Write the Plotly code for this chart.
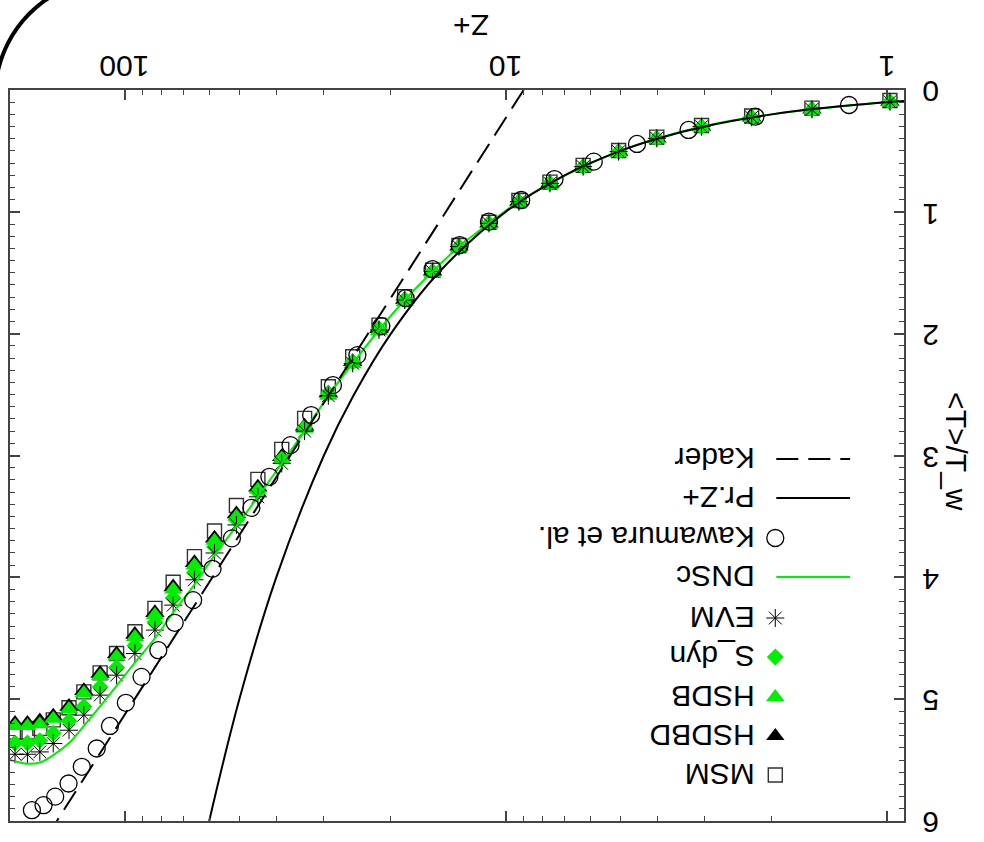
import numpy as np
import plotly.graph_objects as go

# ---------------- data ----------------
z_grid = [0.98, 1.57, 2.26, 3.06, 4.01, 5.05, 6.26, 7.65, 9.23, 11.06, 13.26, 15.55,
          18.4, 21.5, 25.2, 29.2, 33.7, 38.7, 44.7, 50.9, 58.1, 65.6, 74.6, 83.3,
          94.0, 105, 116, 128, 140, 154, 167, 180, 194]

t_evm = [0.096, 0.159, 0.224, 0.301, 0.397, 0.506, 0.629, 0.766, 0.917, 1.095, 1.286, 1.49,
         1.724, 1.97, 2.244, 2.51, 2.80, 3.065, 3.339, 3.57, 3.80, 4.02, 4.228, 4.433,
         4.625, 4.803, 4.967, 5.131, 5.255, 5.364, 5.433, 5.452, 5.452]

t_sdyn = [0.096, 0.159, 0.224, 0.301, 0.397, 0.506, 0.629, 0.766, 0.917, 1.095, 1.286, 1.49,
          1.72, 1.96, 2.23, 2.49, 2.77, 3.03, 3.30, 3.53, 3.75, 3.96, 4.17, 4.37,
          4.56, 4.74, 4.90, 5.06, 5.18, 5.28, 5.34, 5.36, 5.36]

t_hsdb = [0.10, 0.163, 0.23, 0.308, 0.405, 0.515, 0.64, 0.778, 0.93, 1.11, 1.30, 1.51,
          1.74, 1.98, 2.25, 2.51, 2.78, 3.03, 3.28, 3.50, 3.70, 3.90, 4.10, 4.31,
          4.49, 4.65, 4.81, 4.95, 5.08, 5.16, 5.205, 5.22, 5.22]

t_hsdbd = [0.095, 0.158, 0.223, 0.30, 0.396, 0.505, 0.628, 0.765, 0.915, 1.093, 1.283, 1.487,
           1.72, 1.96, 2.23, 2.49, 2.76, 3.01, 3.26, 3.48, 3.68, 3.88, 4.08, 4.29,
           4.47, 4.63, 4.79, 4.93, 5.06, 5.14, 5.18, 5.20, 5.20]

t_msm = [0.086, 0.149, 0.214, 0.291, 0.387, 0.496, 0.619, 0.756, 0.907, 1.085, 1.276, 1.48,
         1.697, 1.93, 2.19, 2.436, 2.695, 2.95, 3.196, 3.41, 3.62, 3.83, 4.04, 4.255,
         4.447, 4.625, 4.784, 4.94, 5.071, 5.17, 5.24, 5.27, 5.27]

z_dnsc = [0.98, 1.57, 2.26, 3.06, 4.01, 5.05, 6.26, 7.65, 9.23, 11.06, 13.26, 15.55,
          18.4, 21.5, 25.2, 29.2, 33.7, 38.7, 44.7, 50.9, 58.1, 65.6, 74.6, 83.3,
          94.0, 105, 116, 128, 140, 154, 167, 180, 194, 200]
t_dnsc = [0.096, 0.159, 0.224, 0.301, 0.397, 0.506, 0.629, 0.766, 0.917, 1.095, 1.286, 1.49,
          1.724, 1.97, 2.244, 2.51, 2.80, 3.065, 3.34, 3.58, 3.82, 4.06, 4.29, 4.50,
          4.70, 4.89, 5.06, 5.22, 5.36, 5.46, 5.52, 5.53, 5.51, 5.50]

z_kaw = [1.255, 2.21, 3.31, 4.52, 5.87, 7.44, 9.1, 11.06, 13.2, 15.55, 18.3, 21.2, 24.5, 28.4,
         32.4, 36.7, 41.7, 46.5, 52.3, 58.8, 66.1, 73.9, 81.6, 90.3, 99.3, 109.3, 118.4,
         129.6, 140.4, 152.2, 163.3, 175.2]
t_kaw = [0.123, 0.219, 0.328, 0.443, 0.588, 0.731, 0.903, 1.081, 1.273, 1.471, 1.709, 1.938,
         2.176, 2.422, 2.668, 2.915, 3.175, 3.43, 3.68, 3.93, 4.187, 4.373, 4.598, 4.817,
         5.03, 5.22, 5.405, 5.555, 5.692, 5.80, 5.87, 5.911]

z_przp = [0.9, 1.0, 1.5, 2.0, 3.0, 4.0, 5.0, 7.0, 10.0, 15.0, 20.0, 25.0, 30.0, 40.0, 50.0, 60.0]
t_przp = [0.09, 0.10, 0.15, 0.20, 0.30, 0.40, 0.50, 0.70, 1.00, 1.50, 2.00, 2.50, 3.00, 4.00, 5.00, 6.00]

z_kader = [8.97, 150.7]
t_kader = [0.0, 6.0]

x_tickvals = [1, 10, 100]
x_ticktext = ["1", "10", "100"]
x_minor = [2, 3, 4, 5, 6, 7, 8, 9, 20, 30, 40, 50, 60, 70, 80, 90]
y_tickvals = [0, 1, 2, 3, 4, 5, 6]
y_ticktext = ["0", "1", "2", "3", "4", "5", "6"]

legend_names = ["Kader", "Pr.Z+", "Kawamura et al.", "DNSc", "EVM", "S_dyn", "HSDB", "HSDBD", "MSM"]

# ---------------- figure ----------------
W, H = 984, 842
ML, MR, MT, MB = 8, 80, 90, 21
PW, PH = W - ML - MR, H - MT - MB
GREEN = "#00ee00"
FONT = "Liberation Sans, Arial, sans-serif"

fig = go.Figure()

def sc(name, x, y, **kw):
    fig.add_trace(go.Scatter(x=x, y=y, name=name, showlegend=False, **kw))

sc("MSM", z_grid, t_msm, mode="markers",
   marker=dict(symbol="square-open", size=14, color="#333333", line=dict(width=1.4)))
sc("HSDBD", z_grid, t_hsdbd, mode="markers",
   marker=dict(symbol="triangle-up", size=17, color="black", line=dict(width=0)))
sc("HSDB", z_grid, t_hsdb, mode="markers",
   marker=dict(symbol="triangle-up", size=16, color=GREEN, line=dict(width=0)))
sc("S_dyn", z_grid, t_sdyn, mode="markers",
   marker=dict(symbol="diamond", size=13, color=GREEN, line=dict(width=0)))
sc("EVM", z_grid, t_evm, mode="markers",
   marker=dict(symbol="asterisk-open", size=15, color="black", line=dict(width=1)))
sc("DNSc", z_dnsc, t_dnsc, mode="lines", line=dict(color=GREEN, width=2, shape="spline"))
sc("Kawamura et al.", z_kaw, t_kaw, mode="markers",
   marker=dict(symbol="circle-open", size=17, color="black", line=dict(width=1.3)))
sc("Pr.Z+", z_przp, t_przp, mode="lines", line=dict(color="black", width=2, shape="spline"))
sc("Kader", z_kader, t_kader, mode="lines", line=dict(color="black", width=2, dash="22px,10px"))

# ---- hand-made upside-down legend on an overlay axis in pixel units ----
leg_y = [459, 498, 538, 577, 618, 657, 697, 736, 775]
sym_x = 775
line_x = [776, 850]
styles = [
    dict(mode="lines", line=dict(color="black", width=2, dash="22px,10px")),
    dict(mode="lines", line=dict(color="black", width=2)),
    dict(mode="markers", marker=dict(symbol="circle-open", size=17, color="black", line=dict(width=1.3))),
    dict(mode="lines", line=dict(color=GREEN, width=2)),
    dict(mode="markers", marker=dict(symbol="asterisk-open", size=15, color="black", line=dict(width=1))),
    dict(mode="markers", marker=dict(symbol="diamond", size=13, color=GREEN)),
    dict(mode="markers", marker=dict(symbol="triangle-up", size=16, color=GREEN)),
    dict(mode="markers", marker=dict(symbol="triangle-up", size=16, color="black")),
    dict(mode="markers", marker=dict(symbol="square-open", size=14, color="#333333", line=dict(width=1.4))),
]
for nm, yy, st in zip(legend_names, leg_y, styles):
    if st["mode"] == "lines":
        xs, ys = line_x, [yy, yy]
    else:
        xs, ys = [sym_x], [yy]
    fig.add_trace(go.Scatter(x=xs, y=ys, xaxis="x2", yaxis="y2", showlegend=False,
                             hoverinfo="skip", cliponaxis=False, **st))
    fig.add_annotation(x=756, y=yy, xref="x2", yref="y2", text=nm, showarrow=False,
                       textangle=180, xanchor="right", yanchor="middle",
                       font=dict(size=30, color="black", family=FONT))

def px2paper(px, py):
    return (px - ML) / PW, (MT + PH - py) / PH

# upside-down tick labels
_, ylab = px2paper(0, 66)
for v, t in zip(x_tickvals, x_ticktext):
    fig.add_annotation(x=np.log10(v), y=ylab, xref="x", yref="paper", text=t, showarrow=False,
                       textangle=180, xanchor="center", yanchor="middle",
                       font=dict(size=30, color="black", family=FONT))
xlab, _ = px2paper(930, 0)
for v, t in zip(y_tickvals, y_ticktext):
    fig.add_annotation(x=xlab, y=v, xref="paper", yref="y", text=t, showarrow=False,
                       textangle=180, xanchor="center", yanchor="middle", yshift=-2,
                       font=dict(size=30, color="black", family=FONT))

# axis titles (upside down)
tx, ty = px2paper(470, 25)
fig.add_annotation(x=tx, y=ty, xref="paper", yref="paper", text="Z+", showarrow=False,
                   textangle=180, xanchor="center", yanchor="middle",
                   font=dict(size=30, color="black", family=FONT))
tx, ty = px2paper(957, 452)
fig.add_annotation(x=tx, y=ty, xref="paper", yref="paper", text="&lt;T&gt;/T_w", showarrow=False,
                   textangle=90, xanchor="center", yanchor="middle",
                   font=dict(size=30, color="black", family=FONT))

# decorative arc in the top-left corner
ang = np.linspace(np.deg2rad(192), np.deg2rad(248), 40)
cx, cy, r = 111, 97, 118
pts = [px2paper(cx + r * np.cos(a), cy + r * np.sin(a)) for a in ang]
path = "M " + " L ".join(f"{p[0]:.5f},{p[1]:.5f}" for p in pts)
fig.add_shape(type="path", path=path, xref="paper", yref="paper",
              line=dict(color="black", width=4))

axcol = "#444444"
fig.update_layout(
    width=W, height=H,
    margin=dict(l=ML, r=MR, t=MT, b=MB, pad=0),
    paper_bgcolor="white", plot_bgcolor="white",
    font=dict(family=FONT, size=30, color="black"),
    xaxis=dict(type="log", range=[np.log10(200), np.log10(0.9)], side="top",
               tickmode="array", tickvals=x_tickvals, showticklabels=False,
               ticks="inside", ticklen=10, tickwidth=1.5, tickcolor=axcol,
               showline=True, linecolor=axcol, linewidth=1.5, mirror="allticks",
               showgrid=False, zeroline=False,
               minor=dict(tickvals=x_minor, ticks="inside", ticklen=5, tickcolor=axcol, tickwidth=1.2, showgrid=False)),
    yaxis=dict(range=[6, 0], side="right", tickmode="array", tickvals=y_tickvals, showticklabels=False,
               ticks="inside", ticklen=10, tickwidth=1.5, tickcolor=axcol,
               showline=True, linecolor=axcol, linewidth=1.5, mirror="allticks",
               showgrid=False, zeroline=False,
               minor=dict(dtick=0.1, ticks="inside", ticklen=5, tickcolor=axcol, tickwidth=1.2, showgrid=False)),
    xaxis2=dict(overlaying="x", range=[ML, ML + PW], visible=False, fixedrange=True),
    yaxis2=dict(overlaying="y", range=[MT + PH, MT], visible=False, fixedrange=True),
    showlegend=False,
)

fig.write_html("out.html")
